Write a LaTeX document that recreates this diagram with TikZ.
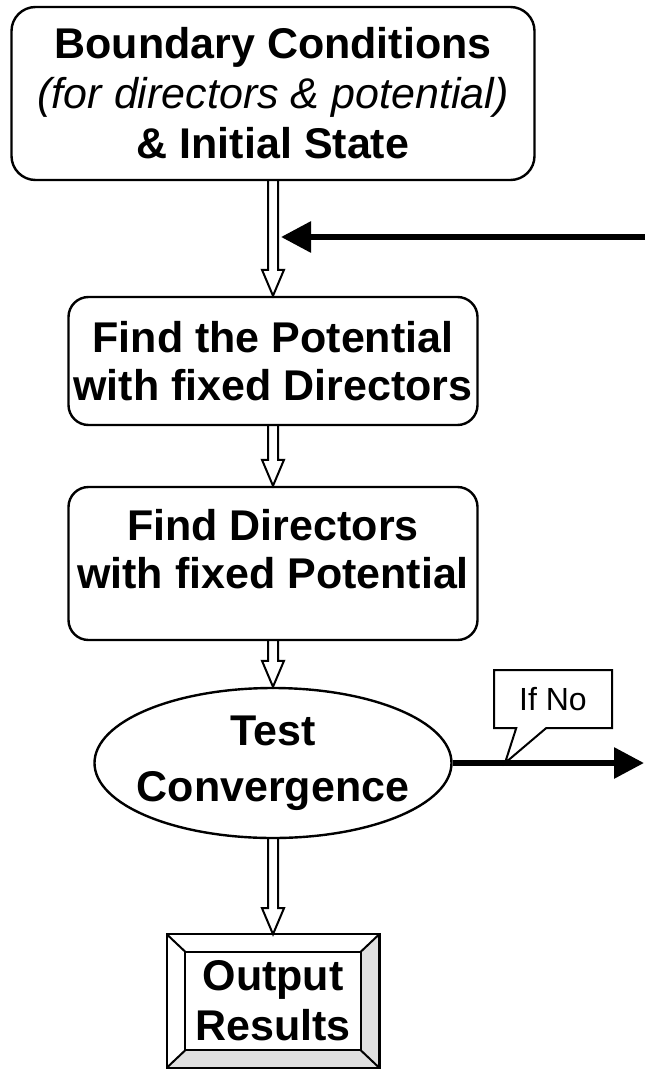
\documentclass[tikz,border=0pt]{standalone}
\usepackage{fontspec}
\setmainfont{Liberation Sans}
\usetikzlibrary{arrows.meta, positioning, calc, shapes.geometric, shapes.callouts, fit}

% open double-lined arrow pointing down, from #1 to #2
\newcommand{\hollowdown}[2]{%
    \draw[hollow] ($(#1)+(-5,0)$) -- ($(#2)+(-5,-26)$) -- ($(#2)+(-11,-26)$) -- (#2)
        -- ($(#2)+(11,-26)$) -- ($(#2)+(5,-26)$) -- ($(#1)+(5,0)$);}

\begin{document}
\begin{tikzpicture}[x=0.5pt, y=-0.5pt,
        stage/.style={draw, line width=1.2pt, rounded corners=10pt, align=center, inner xsep=2pt,
            font=\fontsize{21.5pt}{24pt}\selectfont\bfseries},
        hollow/.style={line width=1pt, line join=miter},
        heavy/.style={line width=3pt, -{Triangle[length=15pt, width=15pt]}}]
        \path[use as bounding box] (0,0) rectangle (645,1070);

        % the three steps
        \node[stage, rounded corners=12pt, minimum width=261.5pt, minimum height=86.5pt,
            font=\fontsize{21.5pt}{25pt}\selectfont\bfseries] (bc) at (273,93.5)
            {Boundary Conditions\\{\mdseries\itshape (for directors \& potential)}\\\& Initial State};
        \node[stage, minimum width=204.5pt, minimum height=64pt] (pot) at (273,361)
            {Find the Potential\\with fixed Directors};
        \node[stage, minimum width=204.5pt, minimum height=76.5pt, text depth=15pt] (dir) at (273,563.5)
            {Find Directors\\with fixed Potential};

        % convergence test
        \node[draw, ellipse, line width=1.2pt, minimum width=178.5pt, minimum height=75pt] (test) at (273,763) {};
        \node[align=center, font=\fontsize{21.5pt}{28pt}\selectfont\bfseries] (testtxt) at (test) {Test\\Convergence};

        % output box with bevelled frame
        \node[align=center, inner sep=2pt, minimum width=87.5pt, minimum height=49pt,
            font=\fontsize{21.5pt}{25pt}\selectfont\bfseries] (res) at (273,1001) {Output\\Results};
        \node[fit=(res), inner xsep=9pt, inner ysep=8.5pt] (frame) {};
        \fill[gray!25] (frame.north east) -- (res.north east) -- (res.south east) -- (frame.south east) -- cycle;
        \fill[gray!25] (frame.south west) -- (res.south west) -- (res.south east) -- (frame.south east) -- cycle;
        \draw[line width=1.2pt] (frame.north west) rectangle (frame.south east);
        \draw[line width=1pt] (res.north west) rectangle (res.south east);
        \foreach \c in {north west, north east, south west, south east}
            \draw[line width=1pt] (frame.\c) -- (res.\c);

        % flow down
        \hollowdown{bc.south}{pot.north}
        \hollowdown{pot.south}{dir.north}
        \hollowdown{dir.south}{test.north}
        \hollowdown{test.south}{frame.north}

        % loop back
        \coordinate (back) at (645,237);
        \coordinate (join) at (281,237);
        \draw[heavy] (back) -- (join);

        \coordinate (exit) at (644,763);
        \draw[heavy] (test.east) -- (exit);
        \node[draw, line width=1pt, rectangle callout, minimum width=59pt, minimum height=29pt,
            callout absolute pointer={(505,763)}, callout pointer width=15pt,
            font=\fontsize{16pt}{18pt}\selectfont] (ifno) at (553,699) {If No};
    \end{tikzpicture}
\end{document}
